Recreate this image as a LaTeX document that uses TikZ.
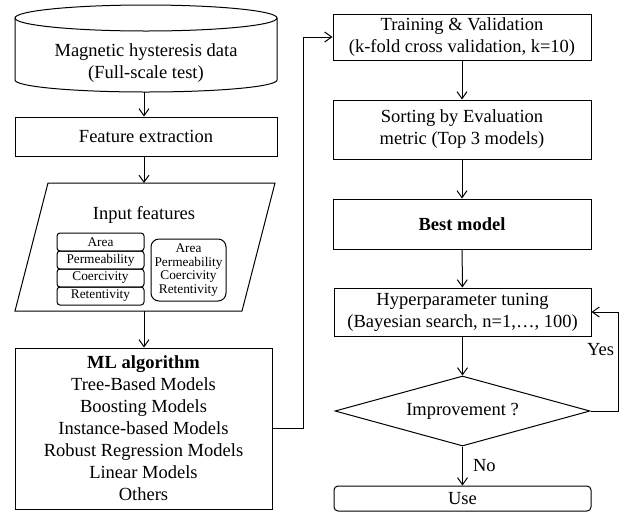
\documentclass[tikz,border=0pt]{standalone}
\usepackage{fontspec}
\setmainfont{Liberation Serif}
\usetikzlibrary{arrows.meta,shapes.geometric}

\begin{document}
\begin{tikzpicture}[x=1pt,y=-1pt,line width=1pt,
  txt/.style={align=center,inner sep=0pt,font=\fontsize{18.5}{22}\selectfont},
  box/.style={txt,draw,rectangle,minimum width=258pt},
  arr/.style={-{Straight Barb[length=7pt,width=10pt]}},
  tag/.style={draw,rounded corners=3pt,minimum width=87pt,minimum height=18pt,
    inner sep=0pt,font=\fontsize{13.3}{13.5}\selectfont},
  lbl/.style={inner sep=0pt,font=\fontsize{18.5}{22}\selectfont}]
\useasboundingbox (0,0) rectangle (620,512);

% ---- data source (cylinder) ----
\draw (15,18) -- (15,80) arc[start angle=180,end angle=360,x radius=131pt,y radius=12pt] -- (277,18);
\draw (146,18) ellipse[x radius=131pt,y radius=13pt];
\node[txt] (data) at (146,63) {Magnetic hysteresis data\\(Full-scale test)};
\coordinate (dataBot) at (144,92);

% ---- left column ----
\node[box,minimum width=262pt,minimum height=39pt] (feat) at (146,136.5) {Feature extraction};

% input features (parallelogram)
\draw (48,183) -- (275,183) -- (242,311) -- (15,311) -- cycle;
\coordinate (inTop) at (144,183);
\coordinate (inBot) at (144,311);
\node[lbl] (inlab) at (144,215) {Input features};
\node[tag] (f1) at (100.5,242) {Area};
\node[tag] (f2) at (100.5,260) {Permeability};
\node[tag] (f3) at (100.5,278) {Coercivity};
\node[tag] (f4) at (100.5,296) {Retentivity};
\node[draw,rounded corners=8pt,minimum width=75pt,minimum height=62pt,inner sep=0pt,
  align=center,font=\fontsize{13.3}{13.5}\selectfont] (fall) at (188.5,270)
  {Area\\Permeability\\Coercivity\\Retentivity};

\node[box,minimum width=257pt,minimum height=161pt] (ml) at (143.5,428.5)
  {\textbf{ML algorithm}\\Tree-Based Models\\Boosting Models\\Instance-based Models\\
   Robust Regression Models\\Linear Models\\Others};

% ---- right column ----
\node[box,minimum height=46pt] (train) at (462,37)
  {Training \& Validation\\(k-fold cross validation, k=10)};
\node[box,minimum height=59pt] (sort) at (462,129.5)
  {Sorting by Evaluation\\metric (Top 3 models)};
\node[box,minimum height=50pt] (best) at (462,224) {\textbf{Best model}};
\node[box,minimum width=257pt,minimum height=48pt] (hyper) at (462.5,312)
  {Hyperparameter tuning\\(Bayesian search, n=1,\dots, 100)};
\node[txt,draw,diamond,minimum width=255pt,minimum height=70pt,aspect=3.64] (dec) at (462.5,411)
  {Improvement ?};
\node[txt,draw,rounded corners=4pt,minimum width=257pt,minimum height=25pt] (use) at (462.5,498.5) {Use};

% ---- connectors ----
\draw[arr] (dataBot) -- (feat.north -| dataBot);
\draw[arr] (feat.south -| inTop) -- (inTop);
\draw[arr] (inBot) -- (ml.north -| inBot);
\draw[arr] (ml.east) -- ++(31,0) |- (train.west);
\draw[arr] (train) -- (sort);
\draw[arr] (sort) -- (best);
\draw[arr] (best) -- (hyper);
\draw[arr] (hyper) -- (dec);
\draw[arr] (dec) -- node[lbl,right=10pt,pos=0.5] {No} (use);
\draw[arr] (dec.east) -- ++(28,0) |- node[lbl,left=4pt,pos=0.31] {Yes} (hyper.east);
\end{tikzpicture}
\end{document}
